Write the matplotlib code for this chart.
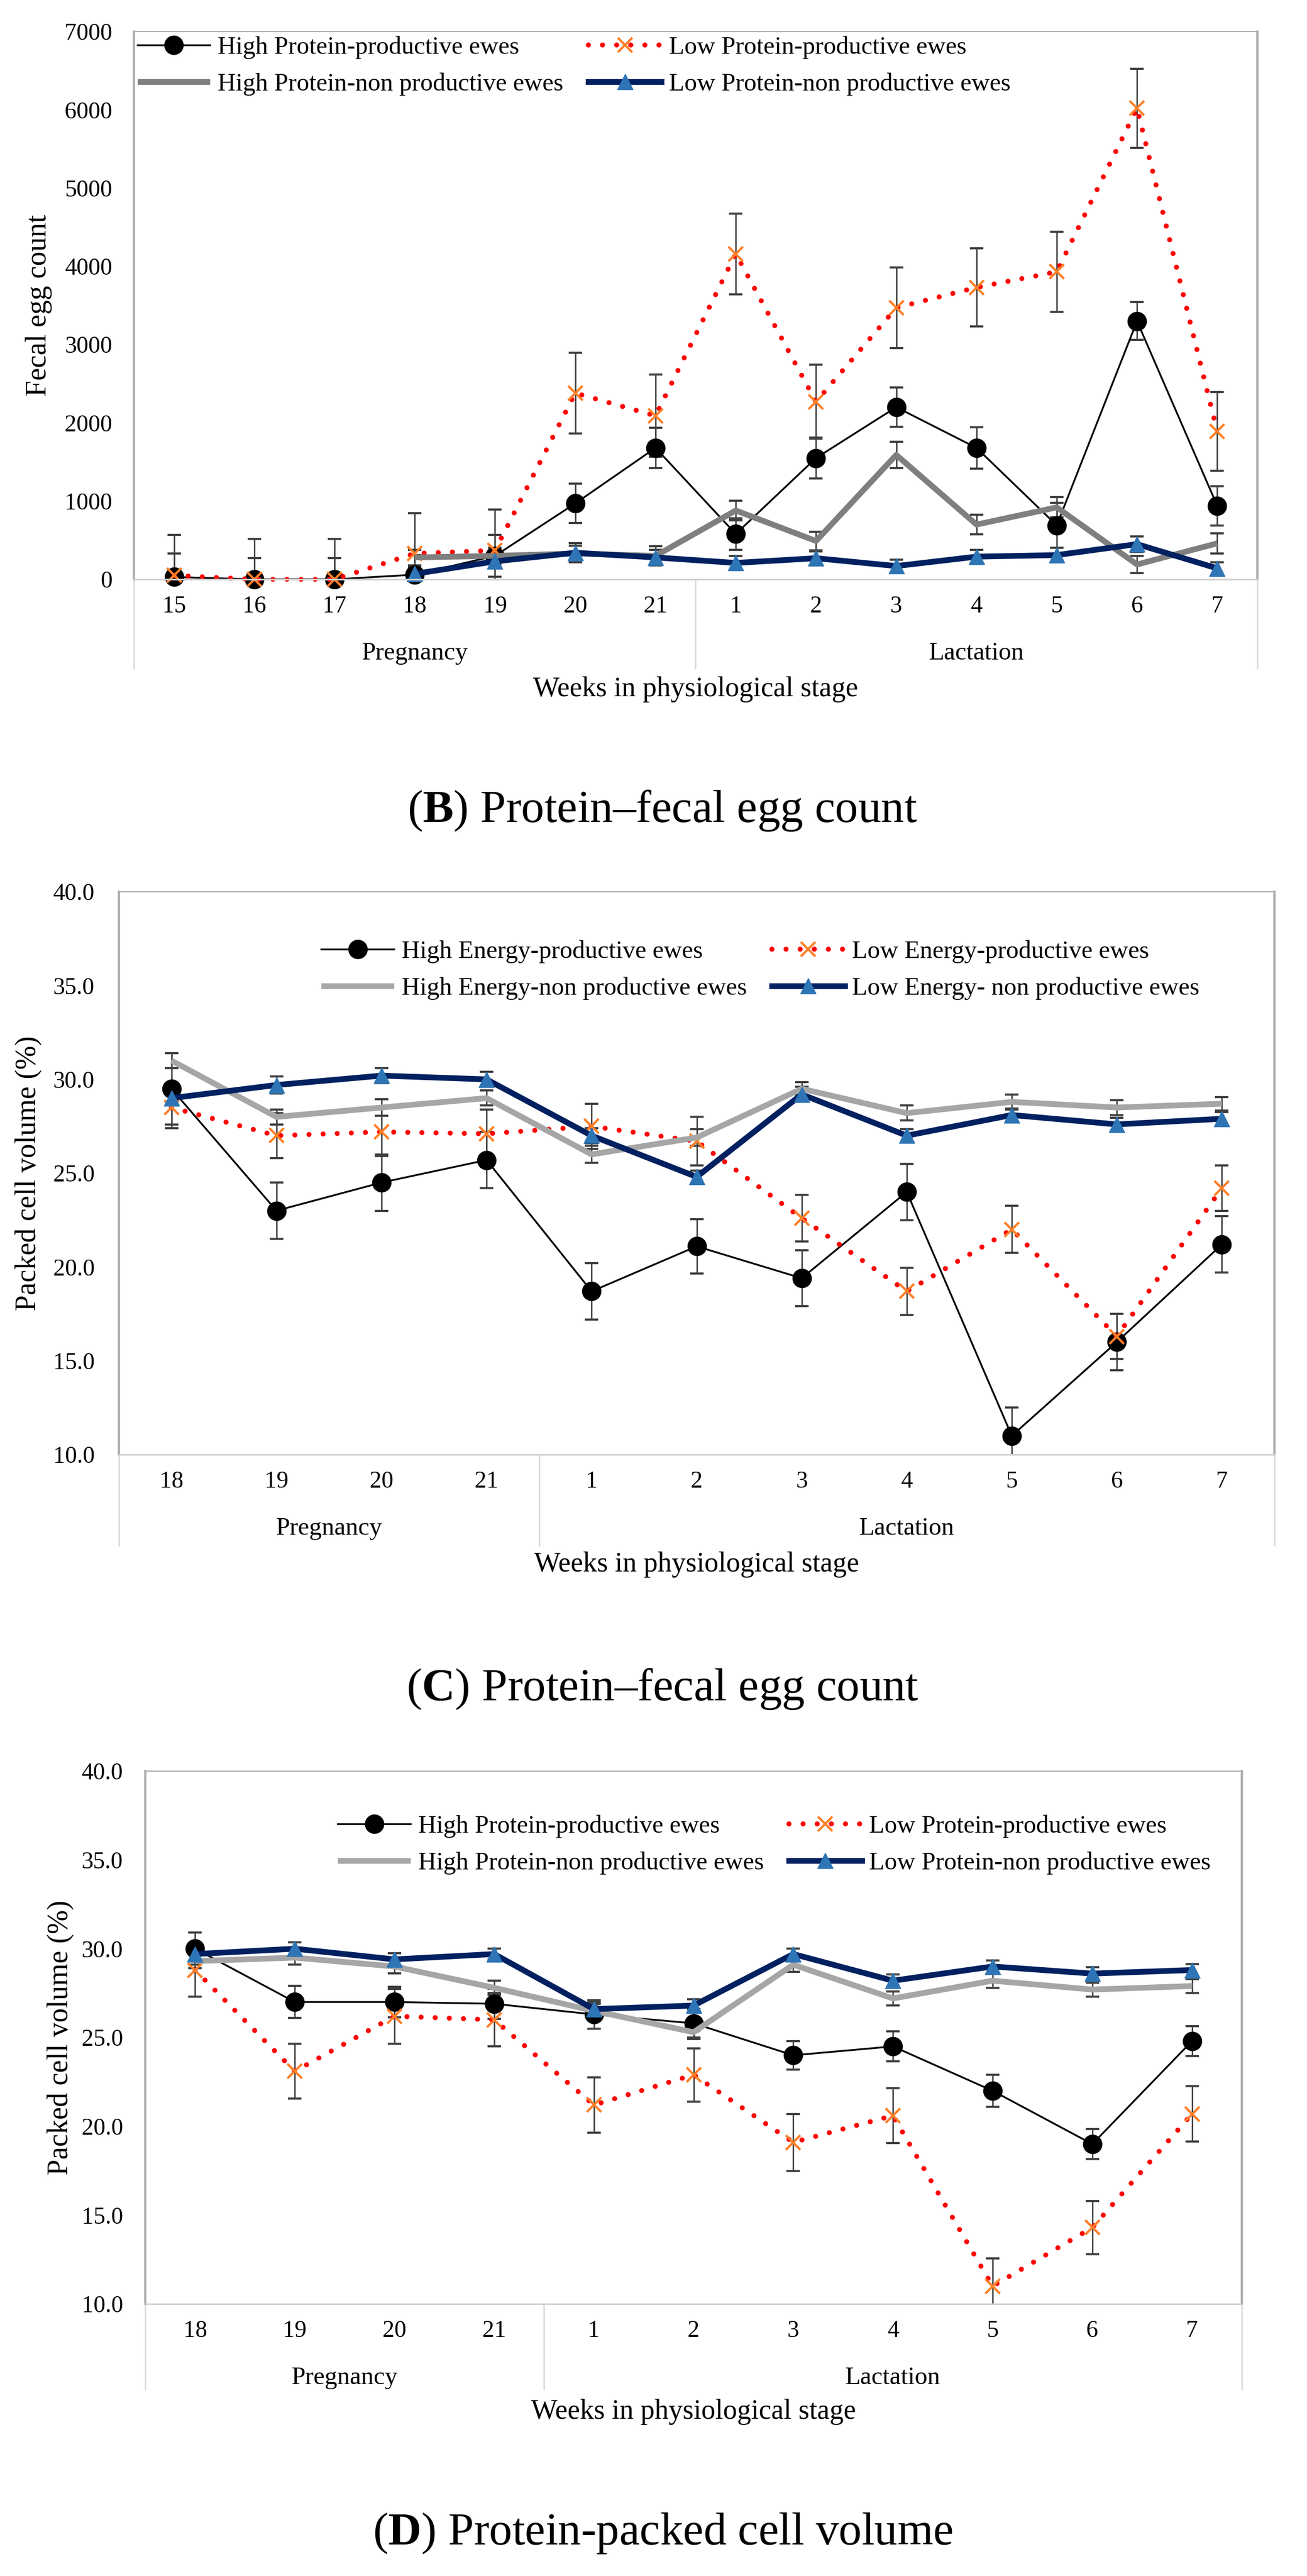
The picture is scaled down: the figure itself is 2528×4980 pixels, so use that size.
import matplotlib
matplotlib.use('Agg')
import numpy as np
import matplotlib.pyplot as plt

plt.rcParams['font.family'] = ['Liberation Serif', 'DejaVu Serif']
plt.rcParams['mathtext.fontset'] = 'custom'
plt.rcParams['mathtext.rm'] = 'Liberation Serif'
plt.rcParams['mathtext.bf'] = 'Liberation Serif:bold'

W, H, DPI = 2528, 4980, 100

# ---- (B) Protein - fecal egg count ----
fec_weeks = ['15', '16', '17', '18', '19', '20', '21', '1', '2', '3', '4', '5', '6', '7']
fec_hp_prod = [30, 0, 0, 60, 300, 970, 1680, 580, 1550, 2200, 1680, 690, 3300, 940]
fec_hp_prod_err = [300, 270, 270, 250, 270, 250, 260, 200, 260, 250, 265, 290, 240, 250]
fec_lp_prod = [50, 0, 0, 330, 370, 2380, 2090, 4160, 2270, 3470, 3730, 3930, 6020, 1890]
fec_lp_prod_err = [520, 515, 515, 515, 520, 515, 525, 515, 470, 515, 500, 515, 505, 505]
fec_hp_non = [np.nan, np.nan, np.nan, 280, 300, 330, 300, 880, 490, 1590, 700, 920, 190, 460]
fec_hp_non_err = [np.nan, np.nan, np.nan, 100, 100, 100, 120, 125, 120, 170, 125, 130, 110, 130]
fec_lp_non = [np.nan, np.nan, np.nan, 70, 230, 340, 280, 210, 270, 170, 290, 310, 450, 140]
fec_lp_non_err = [np.nan, np.nan, np.nan, 90, 90, 120, 100, 90, 90, 80, 90, 90, 100, 80]

# ---- (C) Energy - packed cell volume ----
pcv_weeks = ['18', '19', '20', '21', '1', '2', '3', '4', '5', '6', '7']
c_he_prod = [29.5, 23.0, 24.5, 25.7, 18.7, 21.1, 19.4, 24.0, 11.0, 16.0, 21.2]
c_he_prod_err = [1.9, 1.5, 1.5, 1.5, 1.5, 1.45, 1.5, 1.5, 1.5, 1.5, 1.5]
c_le_prod = [28.5, 27.0, 27.2, 27.1, 27.5, 26.7, 22.6, 18.7, 22.0, 16.3, 24.2]
c_le_prod_err = [1.1, 1.2, 1.3, 1.3, 1.2, 1.3, 1.25, 1.25, 1.25, 1.2, 1.2]
c_he_non = [31.0, 28.0, 28.5, 29.0, 26.0, 26.9, 29.5, 28.2, 28.8, 28.5, 28.7]
c_he_non_err = [0.4, 0.4, 0.45, 0.4, 0.45, 0.45, 0.35, 0.4, 0.4, 0.4, 0.35]
c_le_non = [29.0, 29.7, 30.2, 30.0, 27.0, 24.8, 29.2, 27.0, 28.1, 27.6, 27.9]
c_le_non_err = [0.4, 0.45, 0.4, 0.4, 0.4, 0.35, 0.4, 0.35, 0.35, 0.35, 0.35]

# ---- (D) Protein - packed cell volume ----
d_hp_prod = [30.0, 27.0, 27.0, 26.9, 26.3, 25.8, 24.0, 24.5, 22.0, 19.0, 24.8]
d_hp_prod_err = [0.9, 0.9, 0.85, 0.85, 0.8, 0.8, 0.8, 0.85, 0.9, 0.85, 0.85]
d_lp_prod = [28.8, 23.1, 26.2, 26.0, 21.2, 22.9, 19.1, 20.6, 11.0, 14.3, 20.7]
d_lp_prod_err = [1.5, 1.55, 1.55, 1.5, 1.55, 1.5, 1.6, 1.55, 1.55, 1.5, 1.55]
d_hp_non = [29.3, 29.5, 29.0, 27.8, 26.5, 25.3, 29.1, 27.2, 28.2, 27.7, 27.9]
d_hp_non_err = [0.4, 0.4, 0.4, 0.4, 0.4, 0.4, 0.4, 0.4, 0.4, 0.4, 0.4]
d_lp_non = [29.7, 30.0, 29.4, 29.7, 26.6, 26.8, 29.7, 28.2, 29.0, 28.6, 28.8]
d_lp_non_err = [0.4, 0.35, 0.35, 0.3, 0.4, 0.35, 0.3, 0.35, 0.35, 0.35, 0.35]

groups = ['Pregnancy', 'Lactation']

STYLES = [
    dict(color='black', lw=2.5, marker='o', ms=26, mfc='black', mec='black'),
    dict(color='#FF0000', lw=7, linestyle=(0, (0.01, 2.8)), dash_capstyle='round',
         marker='x', ms=20, mec='#FF7F27', mew=3.2),
    dict(color='#7F7F7F', lw=8, solid_capstyle='butt'),
    dict(color='#002060', lw=8, marker='^', ms=21, mfc='#2E75B6', mec='#2E75B6'),
]

fig = plt.figure(figsize=(W / DPI, H / DPI), dpi=DPI, facecolor='white')


def add_axes(left, top, right, bottom):
    return fig.add_axes([left / W, 1 - bottom / H, (right - left) / W, (bottom - top) / H])


def draw_panel(ax, box, weeks, n_preg, series, errs, labels, ylim, yticks, yfmt,
               ylabel, gray, leg_pos, ylab_x, ypad, below):
    h_px = box[3] - box[1]
    x = np.arange(len(weeks))
    lines = []
    for i, (vals, err) in enumerate(zip(series, errs)):
        st = dict(STYLES[i])
        if i == 2:
            st['color'] = gray
        ax.errorbar(x, vals, yerr=err, fmt='none', ecolor='#404040', elinewidth=2,
                    capsize=9.5, capthick=3, zorder=1.5)
        ln, = ax.plot(x, vals, label=labels[i], zorder=2 + i * 0.1, clip_on=False, **st)
        lines.append(ln)

    ax.set_xlim(-0.5, len(weeks) - 0.5)
    ax.set_ylim(*ylim)
    ax.set_yticks(yticks)
    ax.set_yticklabels([yfmt.format(v) for v in yticks])
    ax.set_xticks(x, weeks)
    ax.tick_params(axis='both', length=0, labelsize=33, colors='black')
    ax.tick_params(axis='x', pad=23)
    ax.tick_params(axis='y', pad=ypad)

    for side in ['left', 'right']:
        ax.spines[side].set_color('#ADADAD')
        ax.spines[side].set_linewidth(3.2)
    ax.spines['top'].set_color('#ADADAD')
    ax.spines['top'].set_linewidth(1.6)
    ax.spines['bottom'].set_color('#D0D0D0')
    ax.spines['bottom'].set_linewidth(2.2)

    # category separators and group labels under the axis
    sep_len, grp_off, xl_off = below
    trans = ax.get_xaxis_transform()
    for xs in [-0.5, n_preg - 0.5, len(weeks) - 0.5]:
        ax.plot([xs, xs], [0, -sep_len / h_px], transform=trans, color='#D9D9D9',
                lw=2, clip_on=False)
    centers = [(n_preg - 1) / 2, (n_preg + len(weeks) - 1) / 2]
    for cx, g in zip(centers, groups):
        ax.text(cx, -grp_off / h_px, g, transform=trans, ha='center', va='center', fontsize=35)

    ax.set_xlabel('Weeks in physiological stage', fontsize=39, va='center')
    ax.xaxis.set_label_coords(0.5, -xl_off / h_px)
    ax.set_ylabel(ylabel, fontsize=40, va='center')
    ax.yaxis.set_label_coords(ylab_x, 0.5)

    order = [lines[0], lines[2], lines[1], lines[3]]
    ax.legend(handles=order, ncol=2, loc='upper left', bbox_to_anchor=leg_pos,
              frameon=False, borderpad=0, borderaxespad=0, handlelength=2.9,
              handletextpad=0.3, columnspacing=1.0, labelspacing=0.55, fontsize=35,
              numpoints=1)


# panel B
boxB = (259, 61, 2432, 1120)
axB = add_axes(*boxB)
draw_panel(axB, boxB, fec_weeks, 7,
           [fec_hp_prod, fec_lp_prod, fec_hp_non, fec_lp_non],
           [fec_hp_prod_err, fec_lp_prod_err, fec_hp_non_err, fec_lp_non_err],
           ['High Protein-productive ewes', 'Low Protein-productive ewes',
            'High Protein-non productive ewes', 'Low Protein-non productive ewes'],
           (0, 7000), list(range(0, 7001, 1000)), '{:.0f}', 'Fecal egg count',
           '#7F7F7F', (0.003, 0.992), -0.0847, 30, (172, 143, 213))

# panel C
boxC = (230, 1724, 2465, 2812)
axC = add_axes(*boxC)
draw_panel(axC, boxC, pcv_weeks, 4,
           [c_he_prod, c_le_prod, c_he_non, c_le_non],
           [c_he_prod_err, c_le_prod_err, c_he_non_err, c_le_non_err],
           ['High Energy-productive ewes', 'Low Energy-productive ewes',
            'High Energy-non productive ewes', 'Low Energy- non productive ewes'],
           (10, 40), [10, 15, 20, 25, 30, 35, 40], '{:.1f}', 'Packed cell volume (%)',
           '#A6A6A6', (0.175, 0.9145), -0.0783, 34, (176, 143, 213))

# panel D
boxD = (281, 3424, 2402, 4454)
axD = add_axes(*boxD)
draw_panel(axD, boxD, pcv_weeks, 4,
           [d_hp_prod, d_lp_prod, d_hp_non, d_lp_non],
           [d_hp_prod_err, d_lp_prod_err, d_hp_non_err, d_lp_non_err],
           ['High Protein-productive ewes', 'Low Protein-productive ewes',
            'High Protein-non productive ewes', 'Low Protein-non productive ewes'],
           (10, 40), [10, 15, 20, 25, 30, 35, 40], '{:.1f}', 'Packed cell volume (%)',
           '#A6A6A6', (0.1754, 0.918), -0.0773, 31, (165, 143, 209))

# captions
fig.text(1281 / W, 1 - 1567 / H, r'($\mathbf{B}$) Protein–fecal egg count',
         ha='center', va='center', fontsize=64)
fig.text(1282 / W, 1 - 3265 / H, r'($\mathbf{C}$) Protein–fecal egg count',
         ha='center', va='center', fontsize=64)
fig.text(1282 / W, 1 - 4897 / H, r'($\mathbf{D}$) Protein-packed cell volume',
         ha='center', va='center', fontsize=64)

fig.savefig('out.png', dpi=DPI, facecolor='white')
